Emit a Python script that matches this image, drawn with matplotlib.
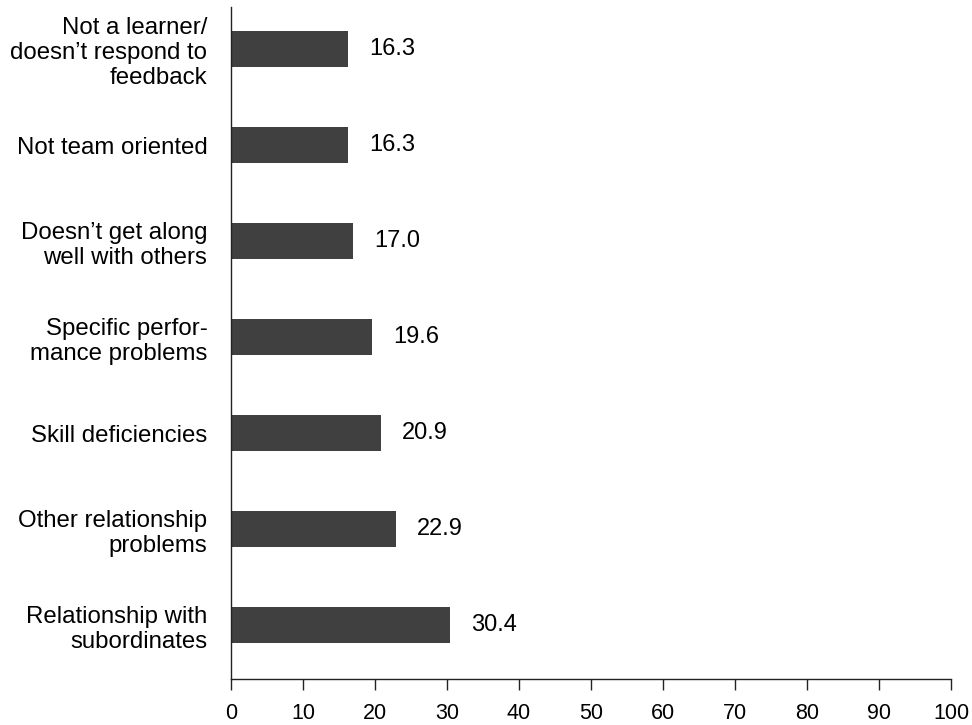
import matplotlib
matplotlib.use("Agg")
import matplotlib.pyplot as plt

categories = [
    "Relationship with\nsubordinates",
    "Other relationship\nproblems",
    "Skill deficiencies",
    "Specific perfor-\nmance problems",
    "Doesn\u2019t get along\nwell with others",
    "Not team oriented",
    "Not a learner/\ndoesn\u2019t respond to\nfeedback",
]
values = [30.4, 22.9, 20.9, 19.6, 17.0, 16.3, 16.3]
value_labels = ["30.4", "22.9", "20.9", "19.6", "17.0", "16.3", "16.3"]
xticks = [0, 10, 20, 30, 40, 50, 60, 70, 80, 90, 100]

plt.rcParams['font.family'] = ['Liberation Sans', 'DejaVu Sans']

fig = plt.figure(figsize=(9.72, 7.25), dpi=100)
ax = fig.add_axes([231/972, 1-679/725, 720/972, 672/725])

pos = list(range(len(categories)))
bars = ax.barh(pos, values, height=0.375, color="#404040")
ax.bar_label(bars, labels=value_labels, padding=15, fontsize=17, color="black")

ax.set_xlim(0, 100)
ax.set_ylim(-0.5625, 6.4375)
ax.set_xticks(xticks)
ax.set_xticklabels([str(t) for t in xticks], fontsize=15.5)
ax.set_yticks(pos)
ax.set_yticklabels(categories, fontsize=17.3, linespacing=1.18)

ax.spines['top'].set_visible(False)
ax.spines['right'].set_visible(False)
for s in ['left', 'bottom']:
    ax.spines[s].set_color('#222222')
    ax.spines[s].set_linewidth(1.0)

ax.tick_params(axis='y', length=0, pad=17)
ax.tick_params(axis='x', length=8, width=1.0, color='#222222', pad=9)

fig.savefig("out.png", dpi=100)
